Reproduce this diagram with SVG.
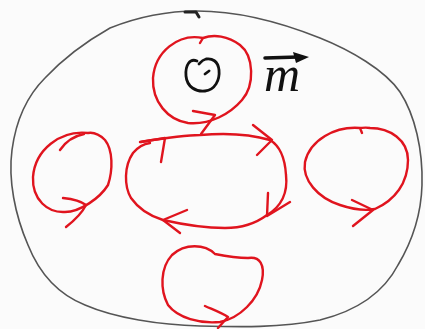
<svg xmlns="http://www.w3.org/2000/svg" width="425" height="329" viewBox="0 0 425 329">
<style>
.red{fill:none;stroke:#e0141e;stroke-width:2.4;stroke-linecap:round;stroke-linejoin:round}
.outer{fill:none;stroke:#555;stroke-width:1.6;stroke-linecap:round}
.ink{fill:none;stroke:#111;stroke-width:2.8;stroke-linecap:round;stroke-linejoin:round}
</style>
<rect width="425" height="329" fill="#fbfbfb"/>
<g id="outer">
<path class="outer" d="M197,11 C240,11 280,22 320,38 C350,50 385,70 400,92 C415,115 423,150 422,185 C421,220 410,245 398,265 C385,290 360,310 320,320 C280,328 240,327 200,326 C160,325 115,318 85,305 C60,295 40,275 28,245 C15,215 8,180 12,150 C16,120 28,95 45,78 C60,62 80,45 110,28 C140,16 170,11 197,11 Z"/>
<path d="M185,12 L196,12 L199,17" fill="none" stroke="#222" stroke-width="3" stroke-linecap="round" stroke-linejoin="round"/>
</g>
<g id="loop-top">
<path class="red" d="M203,38 C178,33 155,52 153,78 C152,102 168,120 188,123 C210,125 230,114 242,100 C255,85 254,56 240,45 C228,36 214,34 203,38 L200,43"/>
<path class="red" d="M193,111 L215,115 L201,134"/>
</g>
<g id="symbol">
<path class="ink" d="M197,61 C190,58 185,65 186,76 C187,87 196,92 205,91 C215,90 220,80 219,70 C218,61 212,58 206,59 C202,60 200,63 199,64"/>
<path class="ink" d="M205,74 L209,71" stroke-width="2.2"/>
</g>
<g id="m-label">
<text x="264" y="91" font-family="Liberation Serif, serif" font-style="italic" font-size="50" fill="#111">m</text>
<path d="M265,58 L298,57" stroke="#111" stroke-width="3.5" stroke-linecap="round"/>
<polygon points="293,52 309,57 296,63" fill="#111"/>
</g>
<g id="loop-center">
<path class="red" d="M140,142 C165,138 185,135 200,135 C223,133 250,134 270,140 C280,146 285,158 286,175 C288,193 282,206 267,215 C255,224 242,228 225,228 C205,228 185,225 163,220 C150,216 138,208 131,198 C124,186 124,166 133,153 C138,147 143,144 150,143"/>
<path class="red" d="M141,142 L165,138 L161,162"/>
<path class="red" d="M253,125 L272,140 L257,155"/>
<path class="red" d="M268,193 L267,216 L290,202"/>
<path class="red" d="M187,210 L163,220 L180,233"/>
</g>
<g id="loop-left">
<path class="red" d="M88,133 C60,130 35,150 33,177 C32,200 48,213 65,212 C80,212 100,198 108,185 C113,170 113,150 105,140 C100,135 94,132 88,133"/>
<path class="red" d="M60,150 C66,141 74,136 84,134"/>
<path class="red" d="M63,198 C73,199 81,201 86,205 C82,213 75,220 66,227"/>
</g>
<g id="loop-right">
<path class="red" d="M360,128 C335,126 310,140 305,162 C302,180 318,198 340,205 C352,209 365,211 375,209 C395,200 408,183 408,160 C408,140 390,128 370,128 C365,127 362,128 360,128 L362,133"/>
<path class="red" d="M352,200 L373,210 L353,226"/>
</g>
<g id="loop-bottom">
<path class="red" d="M215,254 C205,244 185,243 172,255 C160,268 160,290 168,305 C178,318 200,324 220,322 C240,318 258,300 262,280 C265,265 260,256 248,258 C237,258 225,256 215,254"/>
<path class="red" d="M205,306 C214,310 222,313 228,317 L218,328"/>
</g>
</svg>
